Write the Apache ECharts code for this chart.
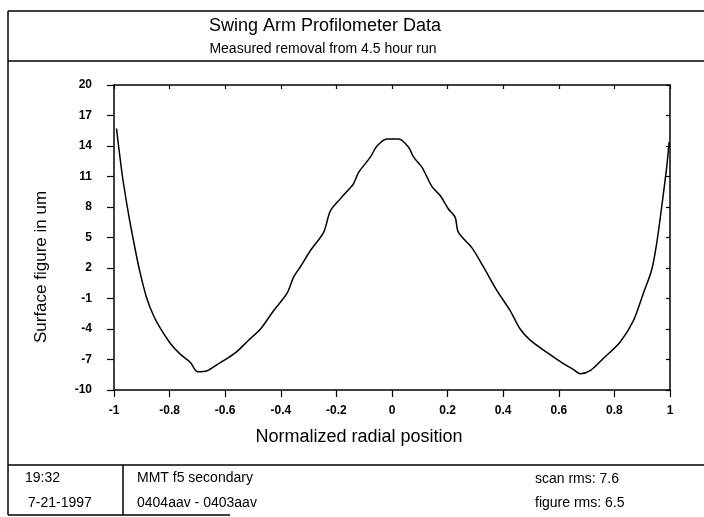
<!DOCTYPE html>
<html>
<head>
<meta charset="utf-8">
<script src="https://cdn.jsdelivr.net/npm/echarts@6/dist/echarts.min.js"></script>
<style>
  html, body { margin: 0; padding: 0; background: #fff; }
  #chart { width: 704px; height: 517px; }
</style>
</head>
<body>
<div id="chart"></div>
<script>
// profile
const radialPos = [
  -0.991, -0.969, -0.948, -0.930, -0.908, -0.883, -0.858, -0.833, -0.797, -0.761,
  -0.725, -0.700, -0.665, -0.629, -0.593, -0.557, -0.516, -0.473, -0.426, -0.378,
  -0.354, -0.330, -0.294, -0.246, -0.222, -0.186, -0.150, -0.138, -0.120, -0.078,
  -0.054, -0.018, 0.024, 0.059, 0.078, 0.108, 0.144, 0.174, 0.203, 0.227,
  0.239, 0.287, 0.329, 0.377, 0.425, 0.461, 0.497, 0.557, 0.611, 0.653,
  0.677, 0.713, 0.760, 0.820, 0.868, 0.904, 0.934, 0.952, 0.970, 0.988, 0.997
]
const surfaceFig = [
  15.72, 10.9, 7.36, 4.71, 1.76, -0.9, -2.67, -3.94, -5.42, -6.5,
  -7.3, -8.2, -8.1, -7.5, -6.9, -6.2, -5.1, -4.0, -2.2, -0.5,
  1.1, 2.1, 3.7, 5.5, 7.6, 8.8, 9.9, 10.3, 11.4, 12.9,
  14.0, 14.7, 14.7, 13.9, 12.9, 11.9, 10.0, 9.1, 7.8, 7.0,
  5.5, 4.0, 2.1, -0.2, -2.2, -4.0, -5.1, -6.3, -7.3, -8.0,
  -8.4, -8.1, -6.9, -5.3, -3.2, -0.5, 1.8, 4.4, 8.0, 11.9, 14.4
]
const yTicks = [-10, -7, -4, -1, 2, 5, 8, 11, 14, 17, 20]
const xTicks = [-1, -0.8, -0.6, -0.4, -0.2, 0, 0.2, 0.4, 0.6, 0.8, 1]

const titleText = 'Swing Arm Profilometer Data'
const subText = 'Measured removal from 4.5 hour run'
const infoLeft = ['19:32', '7-21-1997']
const infoMid = ['MMT f5 secondary', '0404aav - 0403aav']
const infoRight = ['scan rms: 7.6', 'figure rms: 6.5']

const font = '"Liberation Sans", Arial, sans-serif'

let points = []
for (let i = 0; i < radialPos.length; i++) {
  points.push([radialPos[i], surfaceFig[i]])
}

function txt (x, y, text, size, align) {
  return {
    type: 'text',
    x: x,
    y: y,
    style: {
      text: text,
      font: size + 'px ' + font,
      fill: '#000',
      align: align || 'left',
      verticalAlign: 'middle'
    }
  }
}

function line (x1, y1, x2, y2) {
  return {
    type: 'line',
    shape: { x1: x1, y1: y1, x2: x2, y2: y2 },
    style: { stroke: '#000', lineWidth: 1.5 }
  }
}

const chart = echarts.init(document.getElementById('chart'))
const axisLine = { show: true, onZero: false, lineStyle: { color: '#000', width: 1.5 } }
const tickStyle = { color: '#000', width: 1.2 }
const labelStyle = { color: '#000', fontFamily: font, fontSize: 12, fontWeight: 'bold' }

let option = {
  animation: false,
  grid: { left: 114, top: 85, width: 556, height: 305 },
  xAxis: [
    {
      type: 'value',
      min: -1,
      max: 1,
      position: 'bottom',
      axisLine: axisLine,
      axisTick: { show: true, inside: false, length: 7, lineStyle: tickStyle, customValues: xTicks },
      axisLabel: Object.assign({ margin: 15, customValues: xTicks }, labelStyle),
      splitLine: { show: false }
    },
    {
      type: 'value',
      min: -1,
      max: 1,
      position: 'top',
      axisLine: axisLine,
      axisTick: { show: true, inside: true, length: 4, lineStyle: tickStyle, customValues: xTicks },
      axisLabel: { show: false },
      splitLine: { show: false }
    }
  ],
  yAxis: [
    {
      type: 'value',
      min: -10,
      max: 20,
      position: 'left',
      axisLine: axisLine,
      axisTick: { show: true, inside: false, length: 7, lineStyle: tickStyle, customValues: yTicks },
      axisLabel: Object.assign({ margin: 22, customValues: yTicks }, labelStyle),
      splitLine: { show: false }
    },
    {
      type: 'value',
      min: -10,
      max: 20,
      position: 'right',
      axisLine: axisLine,
      axisTick: { show: true, inside: true, length: 4, lineStyle: tickStyle, customValues: yTicks },
      axisLabel: { show: false },
      splitLine: { show: false }
    }
  ],
  series: [
    {
      type: 'line',
      data: points,
      showSymbol: false,
      smooth: 0.3,
      lineStyle: { color: '#000', width: 1.5 }
    }
  ],
  graphic: [
    // frame
    line(8, 11, 704, 11),
    line(8, 61, 704, 61),
    line(8, 11, 8, 515),
    line(8, 465, 704, 465),
    line(123, 465, 123, 515),
    line(8, 515, 230, 515),
    // titles
    txt(325, 26, titleText, 18, 'center'),
    txt(323, 49, subText, 14, 'center'),
    // axis names
    {
      type: 'text',
      x: 41,
      y: 267,
      rotation: Math.PI / 2,
      style: {
        text: 'Surface figure in um',
        font: '17px ' + font,
        fill: '#000',
        align: 'center',
        verticalAlign: 'middle'
      }
    },
    txt(359, 437, 'Normalized radial position', 18, 'center'),
    // info table
    txt(25, 478, infoLeft[0], 14),
    txt(28, 503, infoLeft[1], 14),
    txt(137, 478, infoMid[0], 14),
    txt(137, 503, infoMid[1], 14),
    txt(535, 479, infoRight[0], 14),
    txt(535, 503, infoRight[1], 14)
  ]
}
chart.setOption(option)
</script>
</body>
</html>
